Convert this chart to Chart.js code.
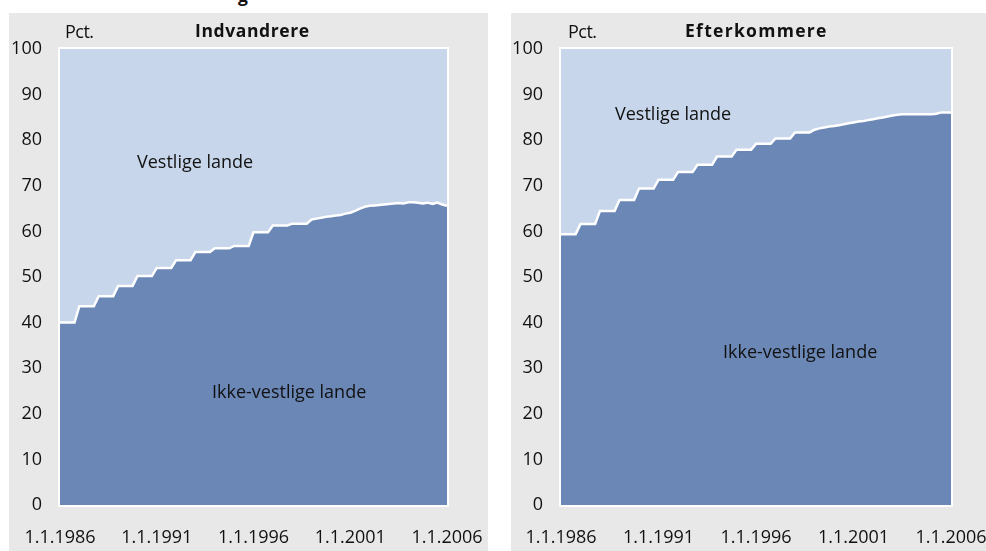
<!DOCTYPE html>
<html>
<head>
<meta charset="utf-8">
<script src="https://cdn.jsdelivr.net/npm/chart.js@4.4.1/dist/chart.umd.min.js"></script>
<style>
  body { margin: 0; width: 986px; height: 551px; background: #fff; position: relative; overflow: hidden;
         font-family: "Open Sans", sans-serif; color: #111; }
  .panel { position: absolute; top: 13px; height: 538px; background: #e8e8e8; }
  .panel canvas { position: absolute; left: 0; top: 0; }
  .txt { position: absolute; white-space: nowrap; font-size: 18px; line-height: 22px; }
  .title { font-weight: bold; font-size: 17.5px; letter-spacing: 0.6px; }
  .pct { font-size: 18px; letter-spacing: -0.5px; }
</style>
</head>
<body>
<div class="txt title" style="left:238px; top:-16px;">g</div>
<div class="panel" id="p1" style="left:9px; width:479px;"><canvas id="c1" width="479" height="538"></canvas></div>
<div class="panel" id="p2" style="left:511px; width:475px;"><canvas id="c2" width="475" height="538"></canvas></div>

<div class="txt pct" style="left:65px; top:20px;">Pct.</div>
<div class="txt title" style="left:195px; top:19px;">Indvandrere</div>
<div class="txt" style="left:137px; top:150px;">Vestlige lande</div>
<div class="txt" style="left:212px; top:380px;">Ikke-vestlige lande</div>

<div class="txt pct" style="left:568px; top:20px;">Pct.</div>
<div class="txt title" style="left:685px; top:19px; letter-spacing:1.3px;">Efterkommere</div>
<div class="txt" style="left:615px; top:102px;">Vestlige lande</div>
<div class="txt" style="left:723px; top:340px;">Ikke-vestlige lande</div>

<script>
// Kvartalsvise tidspunkter 1.1.1986 - 1.1.2006
const startYear = 1986;
const xTicks = [1986, 1991, 1996, 2001, 2006];
const yTicks = [0, 10, 20, 30, 40, 50, 60, 70, 80, 90, 100];

// Indvandrere: andel fra ikke-vestlige lande (pct.), et tal pr. kvartal
const indvIkkeVestlige = [
  40.0, 40.0, 40.0, 40.0,   // 1986
  43.6, 43.6, 43.6, 43.6,   // 1987
  45.8, 45.8, 45.8, 45.8,   // 1988
  48.0, 48.0, 48.0, 48.0,   // 1989
  50.2, 50.2, 50.2, 50.2,   // 1990
  52.0, 52.0, 52.0, 52.0,   // 1991
  53.7, 53.7, 53.7, 53.7,   // 1992
  55.5, 55.5, 55.5, 55.5,   // 1993
  56.3, 56.3, 56.3, 56.3,   // 1994
  56.8, 56.8, 56.8, 56.8,   // 1995
  59.8, 59.8, 59.8, 59.8,   // 1996
  61.3, 61.3, 61.3, 61.3,   // 1997
  61.7, 61.7, 61.7, 61.7,   // 1998
  62.6, 62.8, 63.0, 63.2,   // 1999
  63.3, 63.5, 63.6, 63.9,   // 2000
  64.1, 64.5, 65.0, 65.4,   // 2001
  65.6, 65.7, 65.8, 65.9,   // 2002
  66.0, 66.1, 66.2, 66.1,   // 2003
  66.4, 66.4, 66.3, 66.1,   // 2004
  66.3, 66.0, 66.3, 65.9,   // 2005
  65.6                      // 2006
];

// Efterkommere: andel fra ikke-vestlige lande (pct.)
const efterIkkeVestlige = [
  59.4, 59.4, 59.4, 59.4,   // 1986
  61.6, 61.6, 61.6, 61.6,   // 1987
  64.5, 64.5, 64.5, 64.5,   // 1988
  66.9, 66.9, 66.9, 66.9,   // 1989
  69.4, 69.4, 69.4, 69.4,   // 1990
  71.3, 71.3, 71.3, 71.3,   // 1991
  73.0, 73.0, 73.0, 73.0,   // 1992
  74.6, 74.6, 74.6, 74.6,   // 1993
  76.4, 76.4, 76.4, 76.4,   // 1994
  77.9, 77.9, 77.9, 77.9,   // 1995
  79.2, 79.2, 79.2, 79.2,   // 1996
  80.4, 80.4, 80.4, 80.4,   // 1997
  81.7, 81.7, 81.7, 81.7,   // 1998
  82.3, 82.6, 82.8, 83.0,   // 1999
  83.1, 83.3, 83.5, 83.7,   // 2000
  83.9, 84.1, 84.2, 84.4,   // 2001
  84.6, 84.8, 85.0, 85.2,   // 2002
  85.4, 85.6, 85.7, 85.7,   // 2003
  85.7, 85.7, 85.7, 85.7,   // 2004
  85.7, 85.8, 86.1, 86.1,   // 2005
  86.1                      // 2006
];

const darkBlue = '#6b87b6';
const lightBlue = '#c7d6ea';
const tickFont = { family: 'Open Sans', size: 18 };

// Hvid ramme rundt om plotområdet
const frame = {
  id: 'frame',
  afterDraw(chart) {
    const a = chart.chartArea, ctx = chart.ctx;
    ctx.save();
    ctx.strokeStyle = '#ffffff';
    ctx.lineWidth = 2;
    ctx.strokeRect(a.left - 1, a.top - 1, a.right - a.left + 2, a.bottom - a.top + 2);
    ctx.restore();
  }
};

function makeChart(id, ikke, yWidth, padRight) {
  const pts = ikke.map((v, i) => ({ x: startYear + i / 4, y: v }));
  // Vestlige lande er resten op til 100 pct.
  const rest = ikke.map((v, i) => ({ x: startYear + i / 4, y: 100 - v }));
  return new Chart(document.getElementById(id).getContext('2d'), {
    type: 'line',
    data: {
      datasets: [{
        label: 'Ikke-vestlige lande',
        data: pts,
        backgroundColor: darkBlue,
        borderColor: '#ffffff',
        borderWidth: 2.5,
        fill: 'origin',
        pointRadius: 0,
        tension: 0,
        order: 0
      }, {
        label: 'Vestlige lande',
        data: rest,
        backgroundColor: lightBlue,
        borderWidth: 0,
        fill: '-1',
        pointRadius: 0,
        tension: 0,
        order: 1
      }]
    },
    options: {
      responsive: false,
      animation: false,
      layout: { padding: { top: 36, right: padRight, left: 0, bottom: 0 } },
      plugins: { legend: { display: false }, tooltip: { enabled: false } },
      scales: {
        x: {
          type: 'linear',
          min: 1986, max: 2006,
          grid: { display: false, drawTicks: false },
          border: { display: false },
          afterBuildTicks: s => { s.ticks = xTicks.map(v => ({ value: v })); },
          afterFit: s => { s.height = 46; s.paddingLeft = 0; s.paddingRight = 0; },
          ticks: {
            color: '#111', font: tickFont, padding: 22, maxRotation: 0, autoSkip: false,
            callback: v => '1.1.' + v
          }
        },
        y: {
          stacked: true,
          min: 0, max: 100,
          grid: { display: false, drawTicks: false },
          border: { display: false },
          afterBuildTicks: s => { s.ticks = yTicks.map(v => ({ value: v })); },
          afterFit: s => { s.width = yWidth; s.paddingTop = 0; s.paddingBottom = 0; },
          ticks: { color: '#111', font: tickFont, padding: 18 }
        }
      }
    },
    plugins: [frame]
  });
}

makeChart('c1', indvIkkeVestlige, 51, 41);
makeChart('c2', efterIkkeVestlige, 50, 35);
</script>
</body>
</html>
